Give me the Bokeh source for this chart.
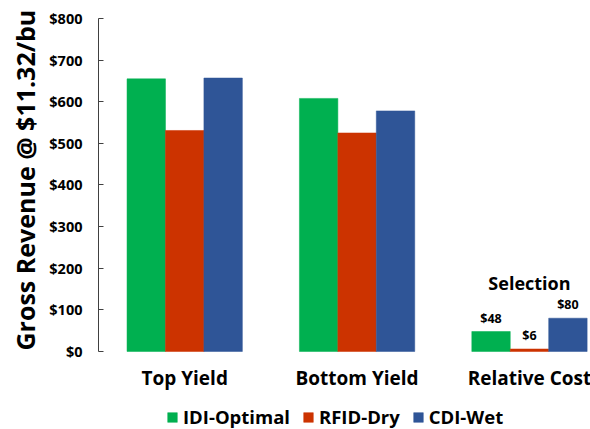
from bokeh.plotting import figure
from bokeh.models import (ColumnDataSource, FixedTicker, NumeralTickFormatter,
                          Legend, LegendItem, Range1d, Title)
from bokeh.transform import dodge
from bokeh.core.properties import value
from bokeh.embed import file_html
from bokeh.resources import INLINE

# Gross revenue per strategy (USD)
categories = ["Top Yield", "Bottom Yield", "Relative Cost"]
idi_optimal = [655, 608, 48]
rfid_dry = [531, 525, 6]
cdi_wet = [657, 578, 80]
series_names = ["IDI-Optimal", "RFID-Dry", "CDI-Wet"]
series_colors = ["#00B050", "#CC3300", "#2F5597"]
y_ticks = [0, 100, 200, 300, 400, 500, 600, 700, 800]
y_title = "Gross Revenue @ $11.32/bu"

FONT = "Open Sans"

pos = [i + 0.5 for i in range(len(categories))]
src = ColumnDataSource(dict(x=pos, idi=idi_optimal, rfid=rfid_dry, cdi=cdi_wet))

# the plotting area reaches down to the canvas edge so the legend can sit
# under the category labels; the value axis is bounded to 0..800
p = figure(width=590, height=429, output_backend="svg", toolbar_location=None,
           x_range=Range1d(0, 2.854), y_range=Range1d(-187.4, 800),
           min_border_left=97, min_border_right=0, min_border_top=18,
           min_border_bottom=0, x_axis_location=None)
p.outline_line_color = None
p.xgrid.visible = False
p.ygrid.visible = False
p.background_fill_color = "white"
p.border_fill_color = "white"

bw = 0.223
renderers = []
for col, off, color in zip(["idi", "rfid", "cdi"], [-bw, 0, bw], series_colors):
    r = p.vbar(x=dodge("x", off, range=p.x_range), top=col, width=bw, source=src,
               fill_color=color, line_color=color, line_width=0.5)
    renderers.append(r)

# value labels for the cost group
cost_idx = categories.index("Relative Cost")
cost_vals = [idi_optimal[cost_idx], rfid_dry[cost_idx], cdi_wet[cost_idx]]
lab_src = ColumnDataSource(dict(
    x=[pos[cost_idx] - bw, pos[cost_idx], pos[cost_idx] + bw],
    y=cost_vals,
    t=["$%d" % v for v in cost_vals]))
p.text(x="x", y="y", text="t", source=lab_src, text_align="center",
       text_baseline="bottom", y_offset=-5, text_font=value(FONT),
       text_font_style="bold", text_font_size="12.5px", text_color="black")

sel_src = ColumnDataSource(dict(x=[pos[cost_idx]], y=[max(cost_vals)], t=["Selection"]))
p.text(x="x", y="y", text="t", source=sel_src, text_align="center",
       text_baseline="bottom", y_offset=-23, text_font=value(FONT),
       text_font_style="bold", text_font_size="18px", text_color="black")

# category labels along the zero line
cat_src = ColumnDataSource(dict(x=pos, y=[0] * len(pos), t=categories))
p.text(x="x", y="y", text="t", source=cat_src, text_align="center",
       text_baseline="middle", y_offset=27, text_font=value(FONT),
       text_font_style="bold", text_font_size="19px", text_color="black")

# y axis
ya = p.yaxis[0]
ya.bounds = (0, 800)
ya.ticker = FixedTicker(ticks=y_ticks)
ya.formatter = NumeralTickFormatter(format="$0")
ya.major_label_text_font = FONT
ya.major_label_text_font_style = "bold"
ya.major_label_text_font_size = "14.5px"
ya.major_label_text_color = "black"
ya.major_label_standoff = 16
ya.axis_line_color = "#404040"
ya.major_tick_line_color = "#404040"
ya.major_tick_in = 5
ya.major_tick_out = 0
ya.minor_tick_line_color = None

# axis title, starting at the zero line and running upwards
ttl = Title(text=y_title, align="left", offset=79, text_font=FONT,
            text_font_style="bold", text_font_size="25px", text_color="black",
            standoff=10)
p.add_layout(ttl, "left")

legend = Legend(items=[LegendItem(label=n, renderers=[r]) for n, r in zip(series_names, renderers)],
                orientation="horizontal", location=(68, 0))
legend.label_text_font = FONT
legend.label_text_font_style = "bold"
legend.label_text_font_size = "18.5px"
legend.label_text_color = "black"
legend.glyph_width = 12
legend.glyph_height = 12
legend.label_standoff = 5
legend.spacing = 12
legend.padding = 1
legend.margin = 0
legend.border_line_color = None
legend.background_fill_alpha = 0
p.add_layout(legend, "center")

open("out.html", "w").write(file_html(p, INLINE))
